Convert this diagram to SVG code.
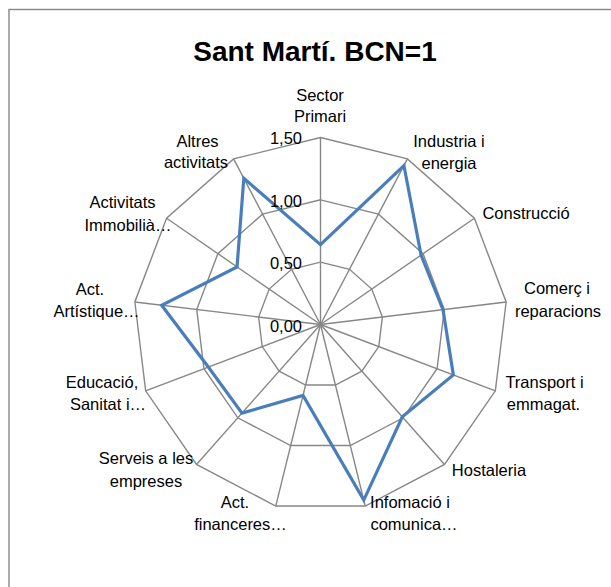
<svg xmlns="http://www.w3.org/2000/svg" width="611" height="587" viewBox="0 0 611 587">
<style>
.grid{fill:none;stroke:#878787;stroke-width:1.4;stroke-linejoin:miter}
.spoke{stroke:#878787;stroke-width:1.4}
.series{fill:none;stroke:#4a7ebb;stroke-width:3.2;stroke-linejoin:miter}
.lbl{font-family:"Liberation Sans",Arial,sans-serif;font-size:16.5px;fill:#000;text-anchor:middle}
.ax{font-family:"Liberation Sans",Arial,sans-serif;font-size:16.5px;fill:#000;text-anchor:end}
.title{font-family:"Liberation Sans",Arial,sans-serif;font-size:28px;font-weight:bold;fill:#000;text-anchor:middle}
</style>
<rect x="0" y="0" width="611" height="587" fill="#ffffff"/>
<rect x="9" y="9.5" width="640" height="620" fill="#ffffff" stroke="#878787" stroke-width="1.4"/>
<text class="title" x="315" y="61">Sant Martí. BCN=1</text>
<g id="grid">
<polygon class="grid" points="320.5,262.17 349.47,269.31 371.80,289.09 382.38,316.99 378.78,346.60 361.83,371.16 335.42,385.02 305.58,385.02 279.17,371.16 262.22,346.60 258.62,316.99 269.20,289.09 291.53,269.31"/>
<polygon class="grid" points="320.5,199.83 378.44,214.11 423.10,253.68 444.26,309.47 437.07,368.71 403.17,417.82 350.34,445.55 290.66,445.55 237.83,417.82 203.93,368.71 196.74,309.47 217.90,253.68 262.56,214.11"/>
<polygon class="grid" points="320.5,137.5 407.40,158.92 474.40,218.27 506.14,301.96 495.35,390.81 444.50,464.47 365.25,506.07 275.75,506.07 196.50,464.47 145.65,390.81 134.86,301.96 166.60,218.27 233.60,158.92"/>
</g>
<g id="connectors">
<line class="spoke" x1="320.5" y1="324.5" x2="320.5" y2="137.5"/>
<line class="spoke" x1="320.5" y1="324.5" x2="407.40" y2="158.92"/>
<line class="spoke" x1="320.5" y1="324.5" x2="474.40" y2="218.27"/>
<line class="spoke" x1="320.5" y1="324.5" x2="506.14" y2="301.96"/>
<line class="spoke" x1="320.5" y1="324.5" x2="495.35" y2="390.81"/>
<line class="spoke" x1="320.5" y1="324.5" x2="444.50" y2="464.47"/>
<line class="spoke" x1="320.5" y1="324.5" x2="365.25" y2="506.07"/>
<line class="spoke" x1="320.5" y1="324.5" x2="275.75" y2="506.07"/>
<line class="spoke" x1="320.5" y1="324.5" x2="196.50" y2="464.47"/>
<line class="spoke" x1="320.5" y1="324.5" x2="145.65" y2="390.81"/>
<line class="spoke" x1="320.5" y1="324.5" x2="134.86" y2="301.96"/>
<line class="spoke" x1="320.5" y1="324.5" x2="166.60" y2="218.27"/>
<line class="spoke" x1="320.5" y1="324.5" x2="233.60" y2="158.92"/>
</g>
<g id="series">
<polygon class="series" points="320.5,244.7 403.92,165.56 421.07,255.08 443.0,309.63 453.37,374.89 402.33,416.87 363.77,500.05 303.03,395.38 241.99,413.12 208.3,367.05 161.67,305.21 237.05,266.9 243.82,178.4"/>
</g>
<g id="axis-labels">
<text class="ax" x="302" y="144">1,50</text>
<text class="ax" x="302" y="206.5">1,00</text>
<text class="ax" x="302" y="269">0,50</text>
<text class="ax" x="302" y="331.5">0,00</text>
</g>
<g id="n-sector-primari"><text class="lbl" x="320" y="100.7">Sector</text><text class="lbl" x="320" y="122">Primari</text></g>
<g id="n-industria"><text class="lbl" x="449" y="146.7">Industria i</text><text class="lbl" x="449" y="168.5">energia</text></g>
<g id="n-construccio"><text class="lbl" x="526" y="219">Construcció</text></g>
<g id="n-comerc"><text class="lbl" x="557" y="294.3">Comerç i</text><text class="lbl" x="558" y="317">reparacions</text></g>
<g id="n-transport"><text class="lbl" x="544.5" y="388.3">Transport i</text><text class="lbl" x="543.5" y="410">emmagat.</text></g>
<g id="n-hostaleria"><text class="lbl" x="489" y="475.7">Hostaleria</text></g>
<g id="n-informacio"><text class="lbl" x="410" y="508.3">Infomació i</text><text class="lbl" x="414" y="530">comunica…</text></g>
<g id="n-financeres"><text class="lbl" x="235" y="508.3">Act.</text><text class="lbl" x="240.5" y="530">financeres…</text></g>
<g id="n-serveis"><text class="lbl" x="146" y="464.3">Serveis a les</text><text class="lbl" x="146" y="486.5">empreses</text></g>
<g id="n-educacio"><text class="lbl" x="102" y="388.3">Educació,</text><text class="lbl" x="108" y="410">Sanitat i…</text></g>
<g id="n-artistique"><text class="lbl" x="90" y="295">Act.</text><text class="lbl" x="96.5" y="317.3">Artístique…</text></g>
<g id="n-immobilia"><text class="lbl" x="122.5" y="208.3">Activitats</text><text class="lbl" x="128" y="230.7">Immobilià…</text></g>
<g id="n-altres"><text class="lbl" x="197.5" y="146.7">Altres</text><text class="lbl" x="196" y="168.3">activitats</text></g>
</svg>
